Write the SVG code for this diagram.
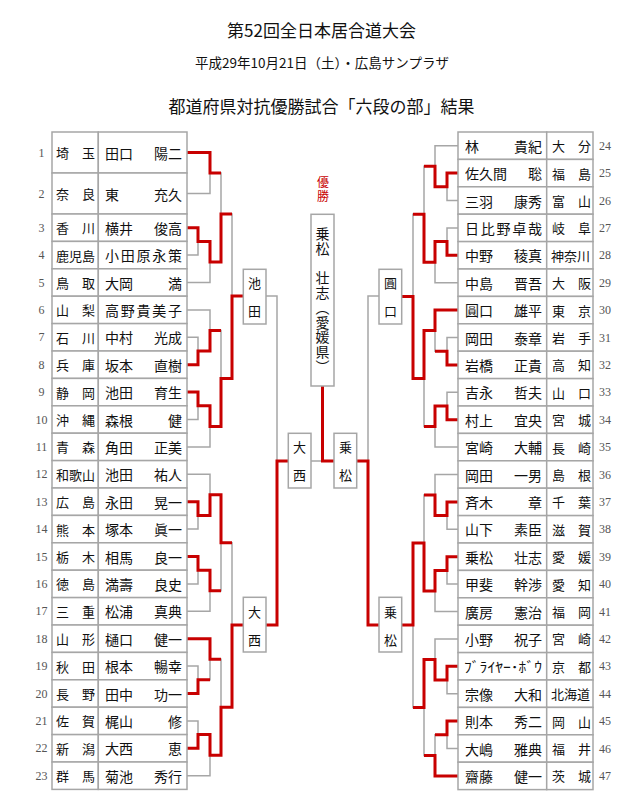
<svg xmlns="http://www.w3.org/2000/svg" width="640" height="810" viewBox="0 0 640 810">
<style>
text{font-family:"Noto Sans CJK JP","Noto Sans CJK SC",sans-serif;fill:#111;dominant-baseline:central}
.ttl{font-size:17px;text-anchor:middle}
.sub{font-size:13.5px;text-anchor:middle}
.p{font-size:13px}
.m{font-size:14px}
.e{text-anchor:end}
.c{text-anchor:middle;font-size:13px}
.num{font-family:"Liberation Serif",serif;font-size:12px;fill:#555;text-anchor:middle}
.cell{fill:#fff;stroke:#a6a6a6;stroke-width:1.5}
.box{fill:#fff;stroke:#a6a6a6;stroke-width:1.5}
.g{fill:none;stroke:#a6a6a6;stroke-width:1.5}
.r{fill:none;stroke:#c80000;stroke-width:3;stroke-linejoin:miter}
.red{fill:#c80000;font-size:12px;writing-mode:vertical-rl;text-orientation:upright;letter-spacing:2px}
.ch{font-size:14px;writing-mode:vertical-rl;text-orientation:upright;letter-spacing:0.7px}
</style>
<g id="title"><text class="ttl" x="321.5" y="29">第52回全日本居合道大会</text></g>
<g id="subtitle"><text class="sub" x="322" y="62">平成29年10月21日（土）・広島サンプラザ</text></g>
<g id="heading"><text class="ttl" x="321.5" y="105">都道府県対抗優勝試合「六段の部」結果</text></g>

<g id="connectors">
<g id="gray-lines" class="g">
<path d="M187,152.5H210V193.5H187M187,227.7H198V255.1H187M198,241.4H210V282.5H187M210,173H221V262H210M221,214H232V378.4H221M232,296H243"/>
<path d="M187,337.3H198V364.7H187M187,309.9H210V351H198M187,392.1H198V419.5H187M198,405.8H210V446.9H187M210,330.5H221V426.4H210"/>
<path d="M187,501.7H198V529.1H187M187,474.3H210V515.4H198M187,556.5H198V583.9H187M198,570.2H210V611.3H187M210,494.8H221V590.8H210"/>
<path d="M187,666.1H198V693.5H187M187,638.7H210V679.8H198M187,720.9H198V748.3H187M198,734.6H210V775.7H187M210,659.2H221V755.2H210"/>
<path d="M221,542.8H232V707.2H221M232,625H243M266,296H277V625H266M277,461H288M311,461H334M322.5,461V386M379,296H368V625H379M368,461H357"/>
<path d="M458,173.1H447V200.5H458M458,145.7H435V186.8H447M458,227.9H447V255.3H458M447,241.6H435V282.7H458M435,166.2H424V262.2H435"/>
<path d="M458,337.5H447V364.9H458M458,310.1H435V351.2H447M458,392.3H447V419.7H458M447,406H435V447.1H458M435,330.6H424V426.6H435"/>
<path d="M424,214.2H413V378.6H424M413,296.4H402"/>
<path d="M458,501.9H447V529.3H458M458,474.5H435V515.6H447M458,556.7H447V584.1H458M447,570.4H435V611.5H458M435,495H424V591H435"/>
<path d="M458,666.3H447V693.7H458M458,638.9H435V680H447M458,721.1H447V748.5H458M447,734.8H435V775.9H458M435,659.4H424V755.4H435"/>
<path d="M424,543H413V707.4H424M413,625H402"/>
</g>
<g id="red-lines" class="r">
<path d="M187,152.5H210V173H221"/>
<path d="M187,227.7H198V241.4H210V262H221V214H232"/>
<path d="M187,364.7H198V351H210V330.5H221"/>
<path d="M187,392.1H198V405.8H210V426.4H221V378.4H232V296H243"/>
<path d="M187,501.7H198V515.4H210V494.8H221V542.8H232"/>
<path d="M187,556.5H198V570.2H210V590.8H221"/>
<path d="M187,638.7H210V659.2H221"/>
<path d="M187,693.5H198V679.8H210"/>
<path d="M187,748.3H198V734.6H210V755.2H221V707.2H232V625H243"/>
<path d="M266,625H277V461H288"/>
<path d="M334,461H322.5V386"/>
<path d="M379,625H368V461H357"/>
<path d="M458,173.1H447V186.8H435V166.2H424"/>
<path d="M458,255.3H447V241.6H435V262.2H424V214.2H413"/>
<path d="M458,310.1H435V330.6H424V378.6H413V296.4H402"/>
<path d="M458,364.9H447V351.2H435"/>
<path d="M458,419.7H447V406H435V426.6H424"/>
<path d="M458,501.9H447V515.6H435V495H424"/>
<path d="M458,556.7H447V570.4H435V591H424V543H413V625H402"/>
<path d="M458,666.3H447V680H435V659.4H424V707.4H413"/>
<path d="M458,721.1H447V734.8H435"/>
<path d="M458,775.9H435V755.4H424"/>
</g>
</g>

<g id="champion">
<text class="red" x="323" y="176.5">優勝</text>
<rect class="box" x="311" y="214.3" width="23" height="171.7"/>
<text class="ch" x="322.5" y="227">乗松　壮志（愛媛県）</text>
</g>
<g id="qf-ikeda"><rect class="box" x="243.3" y="269.3" width="22.7" height="54.7"/><text class="c"><tspan x="254.6" y="282">池</tspan><tspan x="254.6" y="310">田</tspan></text></g>
<g id="qf-onishi"><rect class="box" x="243.3" y="597.3" width="22.7" height="54.7"/><text class="c"><tspan x="254.6" y="610.5">大</tspan><tspan x="254.6" y="638.5">西</tspan></text></g>
<g id="sf-onishi"><rect class="box" x="288.3" y="433.3" width="22.7" height="54.7"/><text class="c"><tspan x="299.6" y="446">大</tspan><tspan x="299.6" y="474">西</tspan></text></g>
<g id="sf-norimatsu"><rect class="box" x="334" y="433.3" width="22.7" height="54.7"/><text class="c"><tspan x="345.4" y="446">乗</tspan><tspan x="345.4" y="474">松</tspan></text></g>
<g id="qf-enguchi"><rect class="box" x="379" y="269.3" width="22.7" height="54.7"/><text class="c"><tspan x="390.4" y="282">圓</tspan><tspan x="390.4" y="310">口</tspan></text></g>
<g id="qf-norimatsu"><rect class="box" x="379" y="597.3" width="22.7" height="54.7"/><text class="c"><tspan x="390.4" y="610.5">乗</tspan><tspan x="390.4" y="638.5">松</tspan></text></g>

<g id="L1"><rect class="cell" x="52" y="132" width="46.3" height="41"/><rect class="cell" x="98.3" y="132" width="88.7" height="41"/><text class="num" x="41.5" y="152.5">1</text><text class="p" x="56" y="152.5">埼</text><text class="p e" x="95" y="152.5">玉</text><text class="m" x="105" y="152.5">田口</text><text class="m e" x="182" y="152.5">陽二</text></g>
<g id="L2"><rect class="cell" x="52" y="173" width="46.3" height="41"/><rect class="cell" x="98.3" y="173" width="88.7" height="41"/><text class="num" x="41.5" y="193.5">2</text><text class="p" x="56" y="193.5">奈</text><text class="p e" x="95" y="193.5">良</text><text class="m" x="105" y="193.5">東</text><text class="m e" x="182" y="193.5">充久</text></g>
<g id="L3"><rect class="cell" x="52" y="214" width="46.3" height="27.4"/><rect class="cell" x="98.3" y="214" width="88.7" height="27.4"/><text class="num" x="41.5" y="227.7">3</text><text class="p" x="56" y="227.7">香</text><text class="p e" x="95" y="227.7">川</text><text class="m" x="105" y="227.7">横井</text><text class="m e" x="182" y="227.7">俊高</text></g>
<g id="L4"><rect class="cell" x="52" y="241.4" width="46.3" height="27.4"/><rect class="cell" x="98.3" y="241.4" width="88.7" height="27.4"/><text class="num" x="41.5" y="255.1">4</text><text class="p" x="56" y="255.1" textLength="39" lengthAdjust="spacing">鹿児島</text><text class="m" x="105" y="255.1" textLength="77" lengthAdjust="spacing">小田原永策</text></g>
<g id="L5"><rect class="cell" x="52" y="268.8" width="46.3" height="27.4"/><rect class="cell" x="98.3" y="268.8" width="88.7" height="27.4"/><text class="num" x="41.5" y="282.5">5</text><text class="p" x="56" y="282.5">鳥</text><text class="p e" x="95" y="282.5">取</text><text class="m" x="105" y="282.5">大岡</text><text class="m e" x="182" y="282.5">満</text></g>
<g id="L6"><rect class="cell" x="52" y="296.2" width="46.3" height="27.4"/><rect class="cell" x="98.3" y="296.2" width="88.7" height="27.4"/><text class="num" x="41.5" y="309.9">6</text><text class="p" x="56" y="309.9">山</text><text class="p e" x="95" y="309.9">梨</text><text class="m" x="105" y="309.9" textLength="77" lengthAdjust="spacing">高野貴美子</text></g>
<g id="L7"><rect class="cell" x="52" y="323.6" width="46.3" height="27.4"/><rect class="cell" x="98.3" y="323.6" width="88.7" height="27.4"/><text class="num" x="41.5" y="337.3">7</text><text class="p" x="56" y="337.3">石</text><text class="p e" x="95" y="337.3">川</text><text class="m" x="105" y="337.3">中村</text><text class="m e" x="182" y="337.3">光成</text></g>
<g id="L8"><rect class="cell" x="52" y="351" width="46.3" height="27.4"/><rect class="cell" x="98.3" y="351" width="88.7" height="27.4"/><text class="num" x="41.5" y="364.7">8</text><text class="p" x="56" y="364.7">兵</text><text class="p e" x="95" y="364.7">庫</text><text class="m" x="105" y="364.7">坂本</text><text class="m e" x="182" y="364.7">直樹</text></g>
<g id="L9"><rect class="cell" x="52" y="378.4" width="46.3" height="27.4"/><rect class="cell" x="98.3" y="378.4" width="88.7" height="27.4"/><text class="num" x="41.5" y="392.1">9</text><text class="p" x="56" y="392.1">静</text><text class="p e" x="95" y="392.1">岡</text><text class="m" x="105" y="392.1">池田</text><text class="m e" x="182" y="392.1">育生</text></g>
<g id="L10"><rect class="cell" x="52" y="405.8" width="46.3" height="27.4"/><rect class="cell" x="98.3" y="405.8" width="88.7" height="27.4"/><text class="num" x="41.5" y="419.5">10</text><text class="p" x="56" y="419.5">沖</text><text class="p e" x="95" y="419.5">縄</text><text class="m" x="105" y="419.5">森根</text><text class="m e" x="182" y="419.5">健</text></g>
<g id="L11"><rect class="cell" x="52" y="433.2" width="46.3" height="27.4"/><rect class="cell" x="98.3" y="433.2" width="88.7" height="27.4"/><text class="num" x="41.5" y="446.9">11</text><text class="p" x="56" y="446.9">青</text><text class="p e" x="95" y="446.9">森</text><text class="m" x="105" y="446.9">角田</text><text class="m e" x="182" y="446.9">正美</text></g>
<g id="L12"><rect class="cell" x="52" y="460.6" width="46.3" height="27.4"/><rect class="cell" x="98.3" y="460.6" width="88.7" height="27.4"/><text class="num" x="41.5" y="474.3">12</text><text class="p" x="56" y="474.3" textLength="39" lengthAdjust="spacing">和歌山</text><text class="m" x="105" y="474.3">池田</text><text class="m e" x="182" y="474.3">祐人</text></g>
<g id="L13"><rect class="cell" x="52" y="488" width="46.3" height="27.4"/><rect class="cell" x="98.3" y="488" width="88.7" height="27.4"/><text class="num" x="41.5" y="501.7">13</text><text class="p" x="56" y="501.7">広</text><text class="p e" x="95" y="501.7">島</text><text class="m" x="105" y="501.7">永田</text><text class="m e" x="182" y="501.7">晃一</text></g>
<g id="L14"><rect class="cell" x="52" y="515.4" width="46.3" height="27.4"/><rect class="cell" x="98.3" y="515.4" width="88.7" height="27.4"/><text class="num" x="41.5" y="529.1">14</text><text class="p" x="56" y="529.1">熊</text><text class="p e" x="95" y="529.1">本</text><text class="m" x="105" y="529.1">塚本</text><text class="m e" x="182" y="529.1">眞一</text></g>
<g id="L15"><rect class="cell" x="52" y="542.8" width="46.3" height="27.4"/><rect class="cell" x="98.3" y="542.8" width="88.7" height="27.4"/><text class="num" x="41.5" y="556.5">15</text><text class="p" x="56" y="556.5">栃</text><text class="p e" x="95" y="556.5">木</text><text class="m" x="105" y="556.5">相馬</text><text class="m e" x="182" y="556.5">良一</text></g>
<g id="L16"><rect class="cell" x="52" y="570.2" width="46.3" height="27.4"/><rect class="cell" x="98.3" y="570.2" width="88.7" height="27.4"/><text class="num" x="41.5" y="583.9">16</text><text class="p" x="56" y="583.9">徳</text><text class="p e" x="95" y="583.9">島</text><text class="m" x="105" y="583.9">満壽</text><text class="m e" x="182" y="583.9">良史</text></g>
<g id="L17"><rect class="cell" x="52" y="597.6" width="46.3" height="27.4"/><rect class="cell" x="98.3" y="597.6" width="88.7" height="27.4"/><text class="num" x="41.5" y="611.3">17</text><text class="p" x="56" y="611.3">三</text><text class="p e" x="95" y="611.3">重</text><text class="m" x="105" y="611.3">松浦</text><text class="m e" x="182" y="611.3">真典</text></g>
<g id="L18"><rect class="cell" x="52" y="625" width="46.3" height="27.4"/><rect class="cell" x="98.3" y="625" width="88.7" height="27.4"/><text class="num" x="41.5" y="638.7">18</text><text class="p" x="56" y="638.7">山</text><text class="p e" x="95" y="638.7">形</text><text class="m" x="105" y="638.7">樋口</text><text class="m e" x="182" y="638.7">健一</text></g>
<g id="L19"><rect class="cell" x="52" y="652.4" width="46.3" height="27.4"/><rect class="cell" x="98.3" y="652.4" width="88.7" height="27.4"/><text class="num" x="41.5" y="666.1">19</text><text class="p" x="56" y="666.1">秋</text><text class="p e" x="95" y="666.1">田</text><text class="m" x="105" y="666.1">根本</text><text class="m e" x="182" y="666.1">暢幸</text></g>
<g id="L20"><rect class="cell" x="52" y="679.8" width="46.3" height="27.4"/><rect class="cell" x="98.3" y="679.8" width="88.7" height="27.4"/><text class="num" x="41.5" y="693.5">20</text><text class="p" x="56" y="693.5">長</text><text class="p e" x="95" y="693.5">野</text><text class="m" x="105" y="693.5">田中</text><text class="m e" x="182" y="693.5">功一</text></g>
<g id="L21"><rect class="cell" x="52" y="707.2" width="46.3" height="27.4"/><rect class="cell" x="98.3" y="707.2" width="88.7" height="27.4"/><text class="num" x="41.5" y="720.9">21</text><text class="p" x="56" y="720.9">佐</text><text class="p e" x="95" y="720.9">賀</text><text class="m" x="105" y="720.9">梶山</text><text class="m e" x="182" y="720.9">修</text></g>
<g id="L22"><rect class="cell" x="52" y="734.6" width="46.3" height="27.4"/><rect class="cell" x="98.3" y="734.6" width="88.7" height="27.4"/><text class="num" x="41.5" y="748.3">22</text><text class="p" x="56" y="748.3">新</text><text class="p e" x="95" y="748.3">潟</text><text class="m" x="105" y="748.3">大西</text><text class="m e" x="182" y="748.3">恵</text></g>
<g id="L23"><rect class="cell" x="52" y="762" width="46.3" height="27.4"/><rect class="cell" x="98.3" y="762" width="88.7" height="27.4"/><text class="num" x="41.5" y="775.7">23</text><text class="p" x="56" y="775.7">群</text><text class="p e" x="95" y="775.7">馬</text><text class="m" x="105" y="775.7">菊池</text><text class="m e" x="182" y="775.7">秀行</text></g>

<g id="R24"><rect class="cell" x="458" y="132" width="88.7" height="27.4"/><rect class="cell" x="546.7" y="132" width="46.3" height="27.4"/><text class="m" x="465" y="145.7">林</text><text class="m e" x="542" y="145.7">貴紀</text><text class="p" x="552" y="145.7">大</text><text class="p e" x="591" y="145.7">分</text><text class="num" x="605" y="145.7">24</text></g>
<g id="R25"><rect class="cell" x="458" y="159.4" width="88.7" height="27.4"/><rect class="cell" x="546.7" y="159.4" width="46.3" height="27.4"/><text class="m" x="465" y="173.1">佐久間</text><text class="m e" x="542" y="173.1">聡</text><text class="p" x="552" y="173.1">福</text><text class="p e" x="591" y="173.1">島</text><text class="num" x="605" y="173.1">25</text></g>
<g id="R26"><rect class="cell" x="458" y="186.8" width="88.7" height="27.4"/><rect class="cell" x="546.7" y="186.8" width="46.3" height="27.4"/><text class="m" x="465" y="200.5">三羽</text><text class="m e" x="542" y="200.5">康秀</text><text class="p" x="552" y="200.5">富</text><text class="p e" x="591" y="200.5">山</text><text class="num" x="605" y="200.5">26</text></g>
<g id="R27"><rect class="cell" x="458" y="214.2" width="88.7" height="27.4"/><rect class="cell" x="546.7" y="214.2" width="46.3" height="27.4"/><text class="m" x="465" y="227.9" textLength="77" lengthAdjust="spacing">日比野卓哉</text><text class="p" x="552" y="227.9">岐</text><text class="p e" x="591" y="227.9">阜</text><text class="num" x="605" y="227.9">27</text></g>
<g id="R28"><rect class="cell" x="458" y="241.6" width="88.7" height="27.4"/><rect class="cell" x="546.7" y="241.6" width="46.3" height="27.4"/><text class="m" x="465" y="255.3">中野</text><text class="m e" x="542" y="255.3">稜真</text><text class="p" x="551" y="255.3" textLength="39" lengthAdjust="spacing">神奈川</text><text class="num" x="605" y="255.3">28</text></g>
<g id="R29"><rect class="cell" x="458" y="269" width="88.7" height="27.4"/><rect class="cell" x="546.7" y="269" width="46.3" height="27.4"/><text class="m" x="465" y="282.7">中島</text><text class="m e" x="542" y="282.7">晋吾</text><text class="p" x="552" y="282.7">大</text><text class="p e" x="591" y="282.7">阪</text><text class="num" x="605" y="282.7">29</text></g>
<g id="R30"><rect class="cell" x="458" y="296.4" width="88.7" height="27.4"/><rect class="cell" x="546.7" y="296.4" width="46.3" height="27.4"/><text class="m" x="465" y="310.1">圓口</text><text class="m e" x="542" y="310.1">雄平</text><text class="p" x="552" y="310.1">東</text><text class="p e" x="591" y="310.1">京</text><text class="num" x="605" y="310.1">30</text></g>
<g id="R31"><rect class="cell" x="458" y="323.8" width="88.7" height="27.4"/><rect class="cell" x="546.7" y="323.8" width="46.3" height="27.4"/><text class="m" x="465" y="337.5">岡田</text><text class="m e" x="542" y="337.5">泰章</text><text class="p" x="552" y="337.5">岩</text><text class="p e" x="591" y="337.5">手</text><text class="num" x="605" y="337.5">31</text></g>
<g id="R32"><rect class="cell" x="458" y="351.2" width="88.7" height="27.4"/><rect class="cell" x="546.7" y="351.2" width="46.3" height="27.4"/><text class="m" x="465" y="364.9">岩橋</text><text class="m e" x="542" y="364.9">正貴</text><text class="p" x="552" y="364.9">高</text><text class="p e" x="591" y="364.9">知</text><text class="num" x="605" y="364.9">32</text></g>
<g id="R33"><rect class="cell" x="458" y="378.6" width="88.7" height="27.4"/><rect class="cell" x="546.7" y="378.6" width="46.3" height="27.4"/><text class="m" x="465" y="392.3">吉永</text><text class="m e" x="542" y="392.3">哲夫</text><text class="p" x="552" y="392.3">山</text><text class="p e" x="591" y="392.3">口</text><text class="num" x="605" y="392.3">33</text></g>
<g id="R34"><rect class="cell" x="458" y="406" width="88.7" height="27.4"/><rect class="cell" x="546.7" y="406" width="46.3" height="27.4"/><text class="m" x="465" y="419.7">村上</text><text class="m e" x="542" y="419.7">宜央</text><text class="p" x="552" y="419.7">宮</text><text class="p e" x="591" y="419.7">城</text><text class="num" x="605" y="419.7">34</text></g>
<g id="R35"><rect class="cell" x="458" y="433.4" width="88.7" height="27.4"/><rect class="cell" x="546.7" y="433.4" width="46.3" height="27.4"/><text class="m" x="465" y="447.1">宮崎</text><text class="m e" x="542" y="447.1">大輔</text><text class="p" x="552" y="447.1">長</text><text class="p e" x="591" y="447.1">崎</text><text class="num" x="605" y="447.1">35</text></g>
<g id="R36"><rect class="cell" x="458" y="460.8" width="88.7" height="27.4"/><rect class="cell" x="546.7" y="460.8" width="46.3" height="27.4"/><text class="m" x="465" y="474.5">岡田</text><text class="m e" x="542" y="474.5">一男</text><text class="p" x="552" y="474.5">島</text><text class="p e" x="591" y="474.5">根</text><text class="num" x="605" y="474.5">36</text></g>
<g id="R37"><rect class="cell" x="458" y="488.2" width="88.7" height="27.4"/><rect class="cell" x="546.7" y="488.2" width="46.3" height="27.4"/><text class="m" x="465" y="501.9">斉木</text><text class="m e" x="542" y="501.9">章</text><text class="p" x="552" y="501.9">千</text><text class="p e" x="591" y="501.9">葉</text><text class="num" x="605" y="501.9">37</text></g>
<g id="R38"><rect class="cell" x="458" y="515.6" width="88.7" height="27.4"/><rect class="cell" x="546.7" y="515.6" width="46.3" height="27.4"/><text class="m" x="465" y="529.3">山下</text><text class="m e" x="542" y="529.3">素臣</text><text class="p" x="552" y="529.3">滋</text><text class="p e" x="591" y="529.3">賀</text><text class="num" x="605" y="529.3">38</text></g>
<g id="R39"><rect class="cell" x="458" y="543" width="88.7" height="27.4"/><rect class="cell" x="546.7" y="543" width="46.3" height="27.4"/><text class="m" x="465" y="556.7">乗松</text><text class="m e" x="542" y="556.7">壮志</text><text class="p" x="552" y="556.7">愛</text><text class="p e" x="591" y="556.7">媛</text><text class="num" x="605" y="556.7">39</text></g>
<g id="R40"><rect class="cell" x="458" y="570.4" width="88.7" height="27.4"/><rect class="cell" x="546.7" y="570.4" width="46.3" height="27.4"/><text class="m" x="465" y="584.1">甲斐</text><text class="m e" x="542" y="584.1">幹渉</text><text class="p" x="552" y="584.1">愛</text><text class="p e" x="591" y="584.1">知</text><text class="num" x="605" y="584.1">40</text></g>
<g id="R41"><rect class="cell" x="458" y="597.8" width="88.7" height="27.4"/><rect class="cell" x="546.7" y="597.8" width="46.3" height="27.4"/><text class="m" x="465" y="611.5">廣房</text><text class="m e" x="542" y="611.5">憲治</text><text class="p" x="552" y="611.5">福</text><text class="p e" x="591" y="611.5">岡</text><text class="num" x="605" y="611.5">41</text></g>
<g id="R42"><rect class="cell" x="458" y="625.2" width="88.7" height="27.4"/><rect class="cell" x="546.7" y="625.2" width="46.3" height="27.4"/><text class="m" x="465" y="638.9">小野</text><text class="m e" x="542" y="638.9">祝子</text><text class="p" x="552" y="638.9">宮</text><text class="p e" x="591" y="638.9">崎</text><text class="num" x="605" y="638.9">42</text></g>
<g id="R43"><rect class="cell" x="458" y="652.6" width="88.7" height="27.4"/><rect class="cell" x="546.7" y="652.6" width="46.3" height="27.4"/><text class="m" x="464" y="666.3" textLength="78" lengthAdjust="spacingAndGlyphs">ﾌﾞﾗｲﾔｰ･ﾎﾞｳ</text><text class="p" x="552" y="666.3">京</text><text class="p e" x="591" y="666.3">都</text><text class="num" x="605" y="666.3">43</text></g>
<g id="R44"><rect class="cell" x="458" y="680" width="88.7" height="27.4"/><rect class="cell" x="546.7" y="680" width="46.3" height="27.4"/><text class="m" x="465" y="693.7">宗像</text><text class="m e" x="542" y="693.7">大和</text><text class="p" x="551" y="693.7" textLength="39" lengthAdjust="spacing">北海道</text><text class="num" x="605" y="693.7">44</text></g>
<g id="R45"><rect class="cell" x="458" y="707.4" width="88.7" height="27.4"/><rect class="cell" x="546.7" y="707.4" width="46.3" height="27.4"/><text class="m" x="465" y="721.1">則本</text><text class="m e" x="542" y="721.1">秀二</text><text class="p" x="552" y="721.1">岡</text><text class="p e" x="591" y="721.1">山</text><text class="num" x="605" y="721.1">45</text></g>
<g id="R46"><rect class="cell" x="458" y="734.8" width="88.7" height="27.4"/><rect class="cell" x="546.7" y="734.8" width="46.3" height="27.4"/><text class="m" x="465" y="748.5">大嶋</text><text class="m e" x="542" y="748.5">雅典</text><text class="p" x="552" y="748.5">福</text><text class="p e" x="591" y="748.5">井</text><text class="num" x="605" y="748.5">46</text></g>
<g id="R47"><rect class="cell" x="458" y="762.2" width="88.7" height="27.4"/><rect class="cell" x="546.7" y="762.2" width="46.3" height="27.4"/><text class="m" x="465" y="775.9">齋藤</text><text class="m e" x="542" y="775.9">健一</text><text class="p" x="552" y="775.9">茨</text><text class="p e" x="591" y="775.9">城</text><text class="num" x="605" y="775.9">47</text></g>
</svg>
